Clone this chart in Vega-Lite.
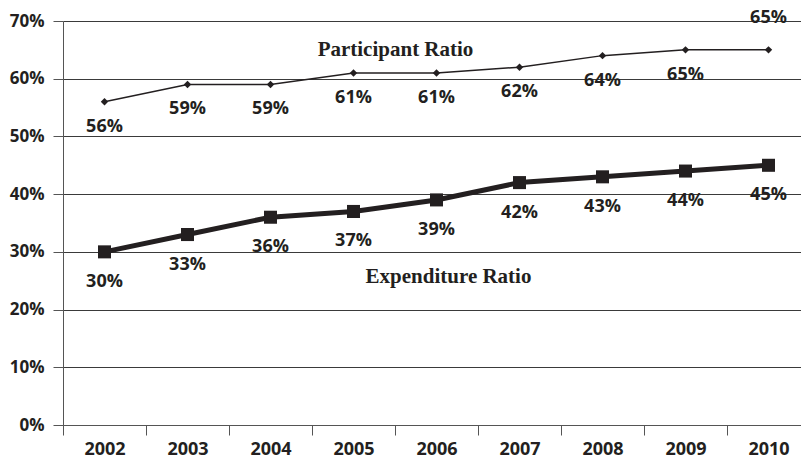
{
  "$schema": "https://vega.github.io/schema/vega-lite/v6.json",
  "width": 738,
  "height": 404,
  "autosize": {"type": "none"},
  "padding": {"left": 63, "top": 21, "right": 0, "bottom": 35},
  "background": "white",
  "config": {"view": {"stroke": null}, "font": "Open Sans"},
  "data": {
    "values": [
      {"year": "2002", "series": "Participant", "value": 0.56},
      {"year": "2003", "series": "Participant", "value": 0.59},
      {"year": "2004", "series": "Participant", "value": 0.59},
      {"year": "2005", "series": "Participant", "value": 0.61},
      {"year": "2006", "series": "Participant", "value": 0.61},
      {"year": "2007", "series": "Participant", "value": 0.62},
      {"year": "2008", "series": "Participant", "value": 0.64},
      {"year": "2009", "series": "Participant", "value": 0.65},
      {"year": "2010", "series": "Participant", "value": 0.65},
      {"year": "2002", "series": "Expenditure", "value": 0.30},
      {"year": "2003", "series": "Expenditure", "value": 0.33},
      {"year": "2004", "series": "Expenditure", "value": 0.36},
      {"year": "2005", "series": "Expenditure", "value": 0.37},
      {"year": "2006", "series": "Expenditure", "value": 0.39},
      {"year": "2007", "series": "Expenditure", "value": 0.42},
      {"year": "2008", "series": "Expenditure", "value": 0.43},
      {"year": "2009", "series": "Expenditure", "value": 0.44},
      {"year": "2010", "series": "Expenditure", "value": 0.45}
    ]
  },
  "encoding": {
    "x": {
      "field": "year",
      "type": "ordinal",
      "scale": {"range": [0, 747], "paddingInner": 0, "paddingOuter": 0},
      "axis": {
        "title": null,
        "labelAngle": 0,
        "tickBand": "extent",
        "tickSize": 10,
        "tickColor": "#555555",
        "domainColor": "#555555",
        "labelFontSize": 18,
        "labelFontWeight": "bold",
        "labelColor": "#231f20",
        "labelPadding": 5,
        "grid": false
      }
    },
    "y": {
      "field": "value",
      "type": "quantitative",
      "scale": {"domain": [0, 0.7]},
      "axis": {
        "title": null,
        "values": [0, 0.1, 0.2, 0.3, 0.4, 0.5, 0.6, 0.7],
        "format": ".0%",
        "grid": true,
        "gridColor": "#3a3a3a",
        "gridWidth": 1,
        "tickSize": 10,
        "tickColor": "#555555",
        "domainColor": "#555555",
        "labelFontSize": 17,
        "labelFontWeight": "bold",
        "labelColor": "#231f20",
        "labelPadding": 9
      }
    }
  },
  "layer": [
    {
      "transform": [{"filter": "datum.series === 'Participant'"}],
      "mark": {"type": "line", "color": "#231f20", "strokeWidth": 1.5}
    },
    {
      "transform": [{"filter": "datum.series === 'Participant'"}],
      "mark": {"type": "point", "shape": "diamond", "filled": true, "color": "#231f20", "size": 55, "opacity": 1}
    },
    {
      "transform": [{"filter": "datum.series === 'Expenditure'"}],
      "mark": {"type": "line", "color": "#231f20", "strokeWidth": 5}
    },
    {
      "transform": [{"filter": "datum.series === 'Expenditure'"}],
      "mark": {"type": "point", "shape": "square", "filled": true, "color": "#231f20", "size": 170, "opacity": 1}
    },
    {
      "transform": [{"filter": "datum.series === 'Participant' && datum.year !== '2010'"}],
      "mark": {"type": "text", "dy": 25, "baseline": "middle", "fontSize": 18, "fontWeight": "bold", "color": "#231f20"},
      "encoding": {"text": {"field": "value", "format": ".0%"}}
    },
    {
      "transform": [{"filter": "datum.series === 'Participant' && datum.year === '2010'"}],
      "mark": {"type": "text", "dy": -32, "baseline": "middle", "fontSize": 18, "fontWeight": "bold", "color": "#231f20"},
      "encoding": {"text": {"field": "value", "format": ".0%"}}
    },
    {
      "transform": [{"filter": "datum.series === 'Expenditure'"}],
      "mark": {"type": "text", "dy": 30, "baseline": "middle", "fontSize": 18, "fontWeight": "bold", "color": "#231f20"},
      "encoding": {"text": {"field": "value", "format": ".0%"}}
    },
    {
      "data": {
        "values": [
          {"year": "2005", "value": 0.65, "label": "Participant Ratio"}
        ]
      },
      "mark": {"type": "text", "dx": 42, "baseline": "middle", "font": "Liberation Serif", "fontSize": 21, "fontWeight": "bold", "color": "#231f20"},
      "encoding": {"text": {"field": "label"}}
    },
    {
      "data": {
        "values": [
          {"year": "2006", "value": 0.256, "label": "Expenditure Ratio"}
        ]
      },
      "mark": {"type": "text", "dx": 12, "baseline": "middle", "font": "Liberation Serif", "fontSize": 21, "fontWeight": "bold", "color": "#231f20"},
      "encoding": {"text": {"field": "label"}}
    }
  ]
}
